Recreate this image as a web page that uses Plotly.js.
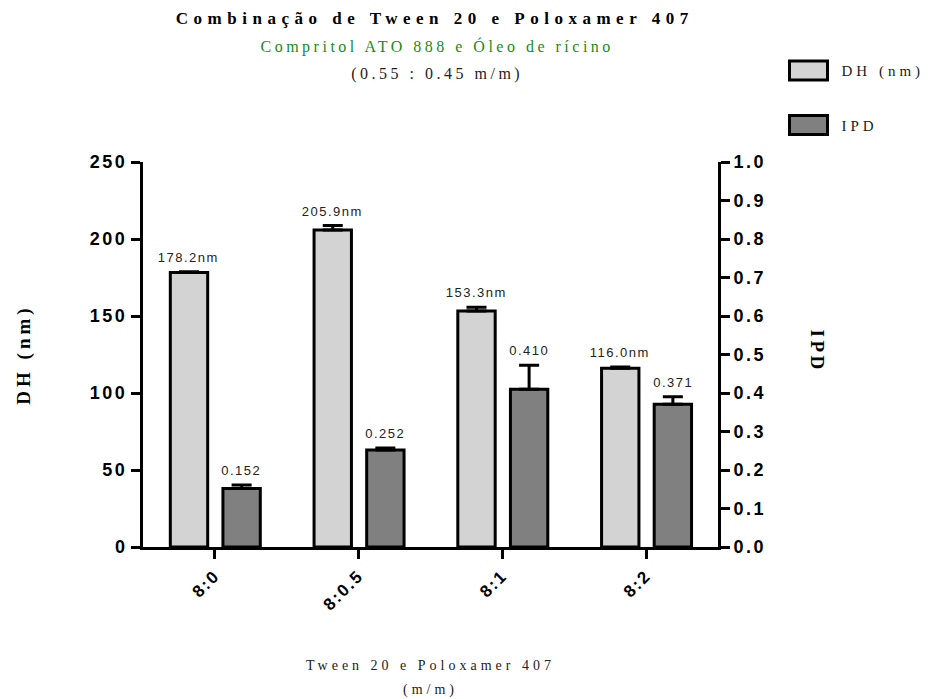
<!DOCTYPE html>
<html><head><meta charset="utf-8">
<script src="https://cdn.plot.ly/plotly-3.0.1.min.js"></script>
<style>body{margin:0;background:#fff;}</style>
</head><body>
<div id="chart" style="width:941px;height:699px;"></div>
<script>
// ---- data ----
const categories = ["8:0", "8:0.5", "8:1", "8:2"];
const dhValues = [178.2, 205.9, 153.3, 116.0];
const dhErrors = [0.5, 2.8, 2.4, 0.9];
const ipdValues = [0.152, 0.252, 0.410, 0.371];
const ipdErrors = [0.009, 0.005, 0.062, 0.019];
const dhLabels = dhValues.map(v => v.toFixed(1) + "nm");
const ipdLabels = ipdValues.map(v => v.toFixed(3));
const yLeftTicks = [0, 50, 100, 150, 200, 250];
const yRightTicks = [0, 0.1, 0.2, 0.3, 0.4, 0.5, 0.6, 0.7, 0.8, 0.9, 1.0];

const sans = "Liberation Sans, Arial, sans-serif";
const serif = "Liberation Serif, Times New Roman, serif";

const traceDH = {
  type: "bar", name: "DH (nm)", x: categories, y: dhValues,
  xaxis: "x", yaxis: "y", width: 0.26, offset: -0.31,
  marker: {color: "#d3d3d3", line: {color: "#000", width: 3}},
  error_y: {type: "data", array: dhErrors, arrayminus: dhErrors.map(() => 0), symmetric: false,
            color: "#000", thickness: 3, width: 10},
  legendgroup: "a", hoverinfo: "skip"
};
const traceIPD = {
  type: "bar", name: "IPD", x: categories, y: ipdValues,
  xaxis: "x", yaxis: "y2", width: 0.26, offset: 0.056,
  marker: {color: "#808080", line: {color: "#000", width: 3}},
  error_y: {type: "data", array: ipdErrors, arrayminus: ipdErrors.map(() => 0), symmetric: false,
            color: "#000", thickness: 3, width: 10},
  legendgroup: "b", hoverinfo: "skip"
};

const annotations = [];
categories.forEach((c, i) => {
  annotations.push({x: c, y: dhValues[i] + dhErrors[i], xref: "x", yref: "y", text: dhLabels[i],
    showarrow: false, yanchor: "bottom", xshift: -26, yshift: 5,
    font: {family: sans, size: 13, color: "#222"}});
  annotations.push({x: c, y: ipdValues[i] + ipdErrors[i], xref: "x", yref: "y2", text: ipdLabels[i],
    showarrow: false, yanchor: "bottom", xshift: 27, yshift: 5,
    font: {family: sans, size: 13, color: "#222"}});
});
annotations.push({x: 0.512, y: 1.299, xref: "paper", yref: "paper", yanchor: "middle",
  text: "Compritol ATO 888 e Óleo de rícino",
  showarrow: false, font: {family: serif, size: 16, color: "#178c17"}});
annotations.push({x: 0.512, y: 1.229, xref: "paper", yref: "paper", yanchor: "middle",
  text: "(0.55 : 0.45 m/m)",
  showarrow: false, font: {family: serif, size: 16, color: "#222"}});
annotations.push({x: 1.196, y: 0.509, xref: "paper", yref: "paper", text: "<b>IPD</b>", textangle: 90,
  showarrow: false, font: {family: serif, size: 19, color: "#000"}});

const layout = {
  width: 941, height: 699,
  margin: {l: 143, r: 223, t: 162, b: 152},
  paper_bgcolor: "#fff", plot_bgcolor: "#fff",
  barmode: "overlay",
  showlegend: true,
  title: {text: "<b>Combinação de Tween 20 e Poloxamer 407</b>", x: 0.462, xanchor: "center",
          y: 0.974, yanchor: "middle", font: {family: serif, size: 17, color: "#000"}},
  xaxis: {type: "category", range: [-0.5, 3.5], showline: true, linecolor: "#000", linewidth: 3,
          ticks: "outside", ticklen: 9, tickwidth: 3, tickcolor: "#000", tickangle: -45,
          tickfont: {family: sans, size: 17, weight: "bold", color: "#000"},
          showgrid: false, zeroline: false,
          title: {text: "Tween 20 e Poloxamer 407<br>(m/m)", standoff: 55,
                  font: {family: serif, size: 14, color: "#222"}}},
  yaxis: {range: [0, 250], tickvals: yLeftTicks, showline: true, linecolor: "#000", linewidth: 3,
          ticks: "outside", ticklen: 9, tickwidth: 3, tickcolor: "#000",
          tickfont: {family: sans, size: 18, weight: "bold", color: "#000"},
          showgrid: false, zeroline: false,
          title: {text: "<b>DH (nm)</b>", standoff: 62, font: {family: serif, size: 19, color: "#000"}}},
  yaxis2: {range: [0, 1.0], tickvals: yRightTicks, tickformat: ".1f", overlaying: "y", side: "right",
           showline: true, linecolor: "#000", linewidth: 3,
           ticks: "outside", ticklen: 9, tickwidth: 3, tickcolor: "#000",
           tickfont: {family: sans, size: 18, weight: "bold", color: "#000"},
           showgrid: false, zeroline: false},
  legend: {x: 1.1, y: 1.28, xanchor: "left", yanchor: "top", tracegroupgap: 32, itemwidth: 56,
           font: {family: serif, size: 15, color: "#222"}, bgcolor: "rgba(0,0,0,0)"},
  annotations: annotations
};

Plotly.newPlot("chart", [traceDH, traceIPD], layout, {displayModeBar: false, staticPlot: true}).then(gd => {
  const setLS = (sel, v) => gd.querySelectorAll(sel).forEach(t => t.style.letterSpacing = v);
  setLS(".gtitle", "5.5px");
  setLS(".xtitle", "4px");
  setLS(".ytitle", "4px");
  setLS(".legendtext", "4px");
  setLS(".ytick text, .y2tick text", "2.5px");
  setLS(".xtick text", "2px");
  gd.querySelectorAll(".annotation").forEach(a => {
    const idx = +a.getAttribute("data-index");
    a.querySelectorAll("text").forEach(t => t.style.letterSpacing = idx < 8 ? "1.5px" : "3.5px");
  });
  // second line of x title further down
  const xt = gd.querySelectorAll(".xtitle tspan.line");
  if (xt.length > 1) xt[1].setAttribute("dy", "1.7em");
  // legend: no clipping, bigger boxes
  gd.querySelectorAll(".legend [clip-path]").forEach(e => e.removeAttribute("clip-path"));
  gd.querySelectorAll(".legend .legendpoints path").forEach(p => {
    p.setAttribute("d", "M19,9.5H-19V-9.5H19Z");
    p.style.strokeWidth = "3px";
  });
});
</script>
</body></html>
